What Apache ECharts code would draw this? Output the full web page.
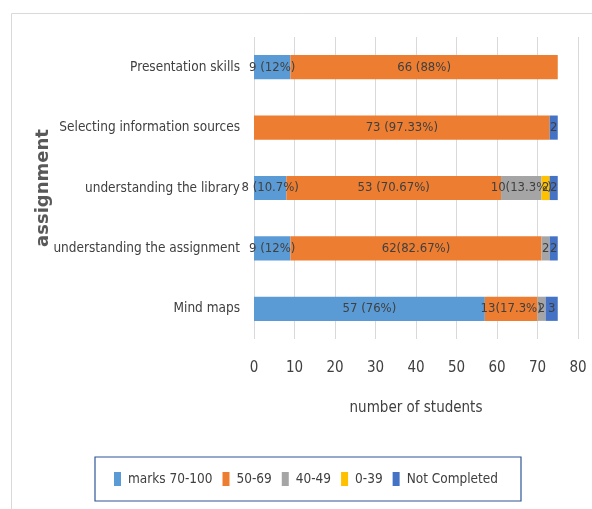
<!DOCTYPE html>
<html><head><meta charset="utf-8">
<script src="https://cdn.jsdelivr.net/npm/echarts@6/dist/echarts.min.js"></script>
<style>html,body{margin:0;padding:0;background:#fff}#c{width:592px;height:509px}</style>
</head><body><div id="c"></div>
<script>
var categories = ['Mind maps', 'understanding the assignment', 'understanding the library', 'Selecting information sources', 'Presentation skills'];
var seriesNames = ['marks 70-100', '50-69', '40-49', '0-39', 'Not Completed'];
var marks70_100 = [57, 9, 8, 0, 9];
var marks50_69 = [13, 62, 53, 73, 66];
var marks40_49 = [2, 2, 10, 0, 0];
var marks0_39 = [0, 0, 2, 0, 0];
var notCompleted = [3, 2, 2, 2, 0];
var labels70_100 = ['57 (76%)', '9 (12%)', '8 (10.7%)', '', '9 (12%)'];
var labels50_69 = ['13(17.3%)', '62(82.67%)', '53 (70.67%)', '73 (97.33%)', '66 (88%)'];
var labels40_49 = ['2', '2', '10(13.3%)', '', ''];
var labels0_39 = ['', '', '2', '', ''];
var labelsNC = ['3', '2', '2', '2', ''];
var xTicks = [0, 10, 20, 30, 40, 50, 60, 70, 80];

var colors = ['#5B9BD5', '#ED7D31', '#A5A5A5', '#FFC000', '#4472C4'];
var values = [marks70_100, marks50_69, marks40_49, marks0_39, notCompleted];
var lbls = [labels70_100, labels50_69, labels40_49, labels0_39, labelsNC];
var FONT = '"DejaVu Sans Condensed", "Liberation Sans Narrow", Roboto, sans-serif';

var series = seriesNames.map(function (n, i) {
  return {
    name: n, type: 'bar', stack: 'total', barCategoryGap: '60%',
    itemStyle: { color: colors[i] },
    data: values[i].map(function (v) { return v === 0 ? null : v; }),
    label: {
      show: true, position: 'inside', color: '#404040', fontFamily: FONT, fontSize: 13,
      formatter: (function (arr) { return function (p) { return arr[p.dataIndex]; }; })(lbls[i])
    }
  };
});

var chart = echarts.init(document.getElementById('c'));
chart.setOption({
  animation: false,
  color: colors,
  graphic: [
    { type: 'rect', shape: { x: 11.5, y: 13.5, width: 600, height: 520 }, style: { fill: 'none', stroke: '#d9d9d9', lineWidth: 1 }, silent: true, z: -1 },
    { type: 'rect', shape: { x: 95, y: 457, width: 426, height: 44 }, style: { fill: 'none', stroke: '#2F5597', lineWidth: 1.2 }, silent: true }
  ],
  grid: { left: 254, right: 14, top: 37, bottom: 170, containLabel: false, outerBoundsMode: 'none' },
  legend: {
    bottom: 18, left: 109, itemWidth: 7, itemHeight: 14, itemGap: 10,
    icon: 'rect',
    textStyle: { color: '#404040', fontFamily: FONT, fontSize: 13.5, padding: [0, 0, 0, 2] },
    data: seriesNames
  },
  xAxis: {
    type: 'value', min: 0, max: 80, interval: 10,
    name: 'number of students', nameLocation: 'middle', nameGap: 62,
    nameTextStyle: { color: '#404040', fontFamily: FONT, fontSize: 15 },
    axisLine: { show: false }, axisTick: { show: false },
    axisLabel: { color: '#404040', fontFamily: FONT, fontSize: 15, margin: 22,
      formatter: function (v) { return xTicks.indexOf(v) >= 0 ? String(v) : ''; } },
    splitLine: { show: true, lineStyle: { color: '#d9d9d9', width: 1 } }
  },
  yAxis: {
    type: 'category', data: categories,
    name: 'assignment', nameLocation: 'middle', nameGap: 202, nameRotate: 90, nameMoveOverlap: false,
    nameTextStyle: { color: '#595959', fontFamily: '"DejaVu Sans", sans-serif', fontSize: 18, fontWeight: 'bold' },
    axisLine: { show: false }, axisTick: { show: false },
    axisLabel: { color: '#404040', fontFamily: FONT, fontSize: 13.5, margin: 14 }
  },
  series: series
});
</script></body></html>
